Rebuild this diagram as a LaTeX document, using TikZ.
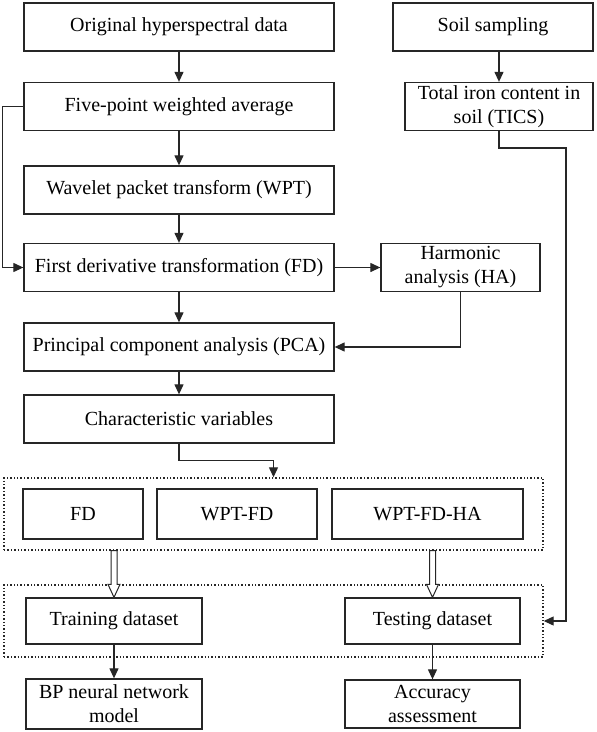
\documentclass[tikz,border=0pt]{standalone}
\usepackage{fontspec}
\setmainfont{Liberation Serif}
\usetikzlibrary{arrows.meta,calc}

\begin{document}
\begin{tikzpicture}[x=1pt,y=-1pt,>={Triangle[length=10pt,width=9pt]},line width=1.2pt,draw=black!85]
		\tikzstyle{box}=[draw,line width=1.3pt,minimum width=310pt,minimum height=48pt,inner sep=0pt,align=center,font=\fontsize{20}{24}\selectfont]
		\tikzstyle{grp}=[draw,dotted,line width=1.4pt,minimum width=539pt,minimum height=72pt]
		\tikzstyle{hollow}=[draw,fill=white,line width=1pt,to path={let \p1=(\tikztostart),\p2=(\tikztotarget) in
			(\x1-3pt,\y1) -- (\x1-3pt,\y2+13pt) -- (\x1-6pt,\y2+13pt) -- (\x2,\y2) -- (\x1+6pt,\y2+13pt) -- (\x1+3pt,\y2+13pt) -- (\x1+3pt,\y1) -- cycle}]

		\useasboundingbox (0,0) rectangle (597,732);

		% spectral branch
		\node[box](orig) at (179,27){Original hyperspectral data};
		\node[box](five) at (179,106.5){Five-point weighted average};
		\node[box](wpt) at (179,190){Wavelet packet transform (WPT)};
		\node[box](fd) at (179,267.5){First derivative transformation (FD)};
		\node[box,minimum width=159pt](ha) at (460.5,267.5){Harmonic\\analysis (HA)};
		\node[box](pca) at (179,347){Principal component analysis (PCA)};
		\node[box](cv) at (179,419){Characteristic variables};

		% soil branch
		\node[box,minimum width=200pt](soil) at (493,27){Soil sampling};
		\node[box,minimum width=188pt](tics) at (499,106.5){Total iron content in\\soil (TICS)};
		\coordinate (c1) at (566,148);

		% groups
		\node[grp](g1) at (273.5,514){};
		\node[grp](g2) at (273.5,621){};
		\node[box,minimum width=120pt,minimum height=50pt](m1) at (83,514){FD};
		\node[box,minimum width=160pt,minimum height=50pt](m2) at (237,514){WPT-FD};
		\node[box,minimum width=191pt,minimum height=50pt](m3) at (427.5,514){WPT-FD-HA};
		\node[box,minimum width=176pt,minimum height=46pt](trn) at (114,621){Training dataset};
		\node[box,minimum width=175pt,minimum height=46pt](tst) at (432.5,621){Testing dataset};
		\node[box,minimum width=176pt,minimum height=50pt](bp) at (114,704){BP neural network\\model};
		\node[box,minimum width=175pt,minimum height=48pt](acc) at (432.5,704){Accuracy\\assessment};

		\draw[->] (orig) -- (five);
		\draw[->] (five) -- (wpt);
		\draw[->] (wpt) -- (fd);
		\draw[->] (five.west) -- ++(-21,0) |- (fd.west);
		\draw[->] (fd) -- (ha);
		\draw[->] (fd) -- (pca);
		\draw[->] (ha.south) |- (pca.east);
		\draw[->] (pca) -- (cv);
		\draw[->] (cv.south) -- ++(0,17) -| (g1.north);
		\draw[->] (soil.south -| tics.north) -- (tics.north);
		\draw[->] (tics.south) |- (c1) |- (g2.east);
		\draw[hollow] (g1.south -| trn.north) to (trn.north);
		\draw[hollow] (g1.south -| tst.north) to (tst.north);
		\draw[->] (trn) -- (bp);
		\draw[->] (tst) -- (acc);
	\end{tikzpicture}
\end{document}
